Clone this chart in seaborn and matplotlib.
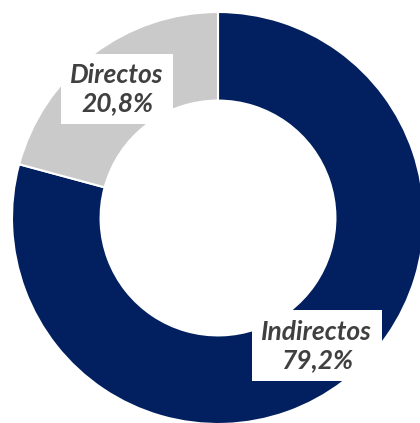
import matplotlib
matplotlib.use("Agg")
import matplotlib.pyplot as plt
import seaborn as sns

# data
categories = ["Indirectos", "Directos"]
shares = [79.2, 20.8]
colors = ["#02205F", "#CACACA"]

sns.set_theme(style="white")
plt.rcParams['font.family'] = ['Lato', 'DejaVu Sans']

fig = plt.figure(figsize=(4.2, 4.23), dpi=100)
ax = fig.add_axes([0, 0, 1, 1])

# donut, starting at 12 o'clock, clockwise
wedges, _ = ax.pie(
    shares, colors=colors, startangle=90, counterclock=False,
    radius=1.0,
    wedgeprops=dict(width=0.43, edgecolor="white", linewidth=1.5),
)

# place the circle like the reference (center ~ (218, 218) px, r ~ 206 px)
ax.set_xlim(-218 / 206, (420 - 218) / 206)
ax.set_ylim(-(423 - 218) / 206, 218 / 206)
ax.set_aspect('auto')
ax.axis('off')

label_pos = {"Indirectos": (0.48, -0.62), "Directos": (-0.49, 0.625)}
for name, val in zip(categories, shares):
    x, y = label_pos[name]
    txt = f"{name}\n{val:.1f}%".replace(".", ",")
    ax.text(x, y, txt, ha='center', va='center', fontsize=19,
            fontweight='bold', fontstyle='italic', color='#404040',
            linespacing=1.2,
            bbox=dict(boxstyle='square,pad=0.35', facecolor='white',
                      edgecolor='none'))

fig.savefig("out.png", dpi=100)
